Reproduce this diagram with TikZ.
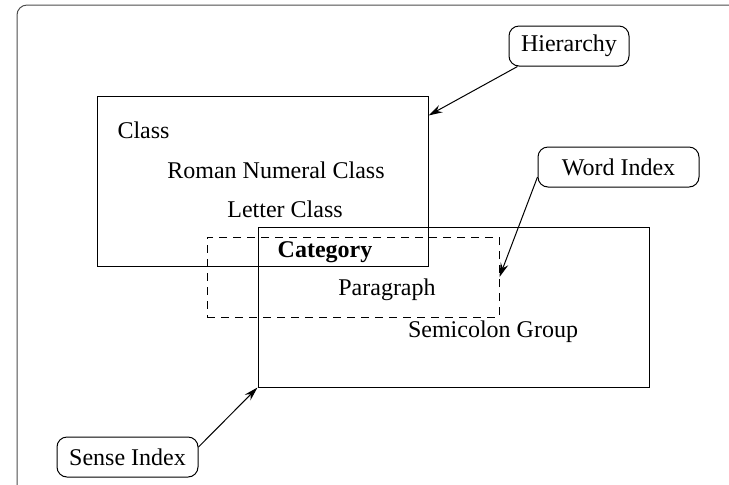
\documentclass[tikz,border=0pt]{standalone}
\usepackage{fontspec}
\setmainfont{Liberation Serif}
\usepackage{tikz}
\usetikzlibrary{arrows.meta}

\begin{document}
\begin{tikzpicture}[x=0.5pt,y=-0.5pt,
		font=\fontsize{12}{14}\selectfont,
		line width=0.5pt,
		txt/.style={inner sep=0pt,anchor=base},
		tag/.style={draw,rounded corners=5pt,minimum height=20pt,inner sep=0pt},
		area/.style={draw,minimum width=#1,inner sep=0pt},
		pointer/.style={-{Stealth[length=7pt,width=4pt]}}]
	\useasboundingbox (0,0) rectangle (729,484);
	\clip (0,0) rectangle (729,484);
	\draw [black!70,rounded corners=5pt] (17,5) rectangle (760,510);
	% the three areas
	\node [area=165.5pt,minimum height=85pt] (classbox) at (262.5,181) {};
	\node [area=195.5pt,minimum height=80pt] (sensebox) at (453.5,307) {};
	\node [area=146pt,minimum height=40pt,dashed,dash pattern=on 4pt off 3pt] (catbox) at (353,277) {};
	% texts
	\node [txt,anchor=base west] (cls) at (117,138) {Class};
	\node [txt] (roman) at (276,178) {Roman Numeral Class};
	\node [txt] (letter) at (285,217) {Letter Class};
	\node [txt,font=\fontsize{12}{14}\selectfont\bfseries] (cat) at (325,257) {Category};
	\node [txt] (para) at (387,295) {Paragraph};
	\node [txt] (semi) at (493,337) {Semicolon Group};
	% labels
	\node [tag,minimum width=60pt] (hier) at (569,46) {Hierarchy};
	\node [tag,minimum width=80.5pt] (wordidx) at (618.5,167) {Word Index};
	\node [tag,minimum width=70.5pt] (senseidx) at (127.5,457) {Sense Index};
	% arrows
	\draw [pointer] ([xshift=4.5pt]hier.south west) -- ([yshift=-10pt]classbox.north east);
	\draw [pointer] ([yshift=-5pt]wordidx.west) -- (catbox.east);
	\draw [pointer] ([yshift=5pt]senseidx.east) -- (sensebox.south west);
\end{tikzpicture}
\end{document}
